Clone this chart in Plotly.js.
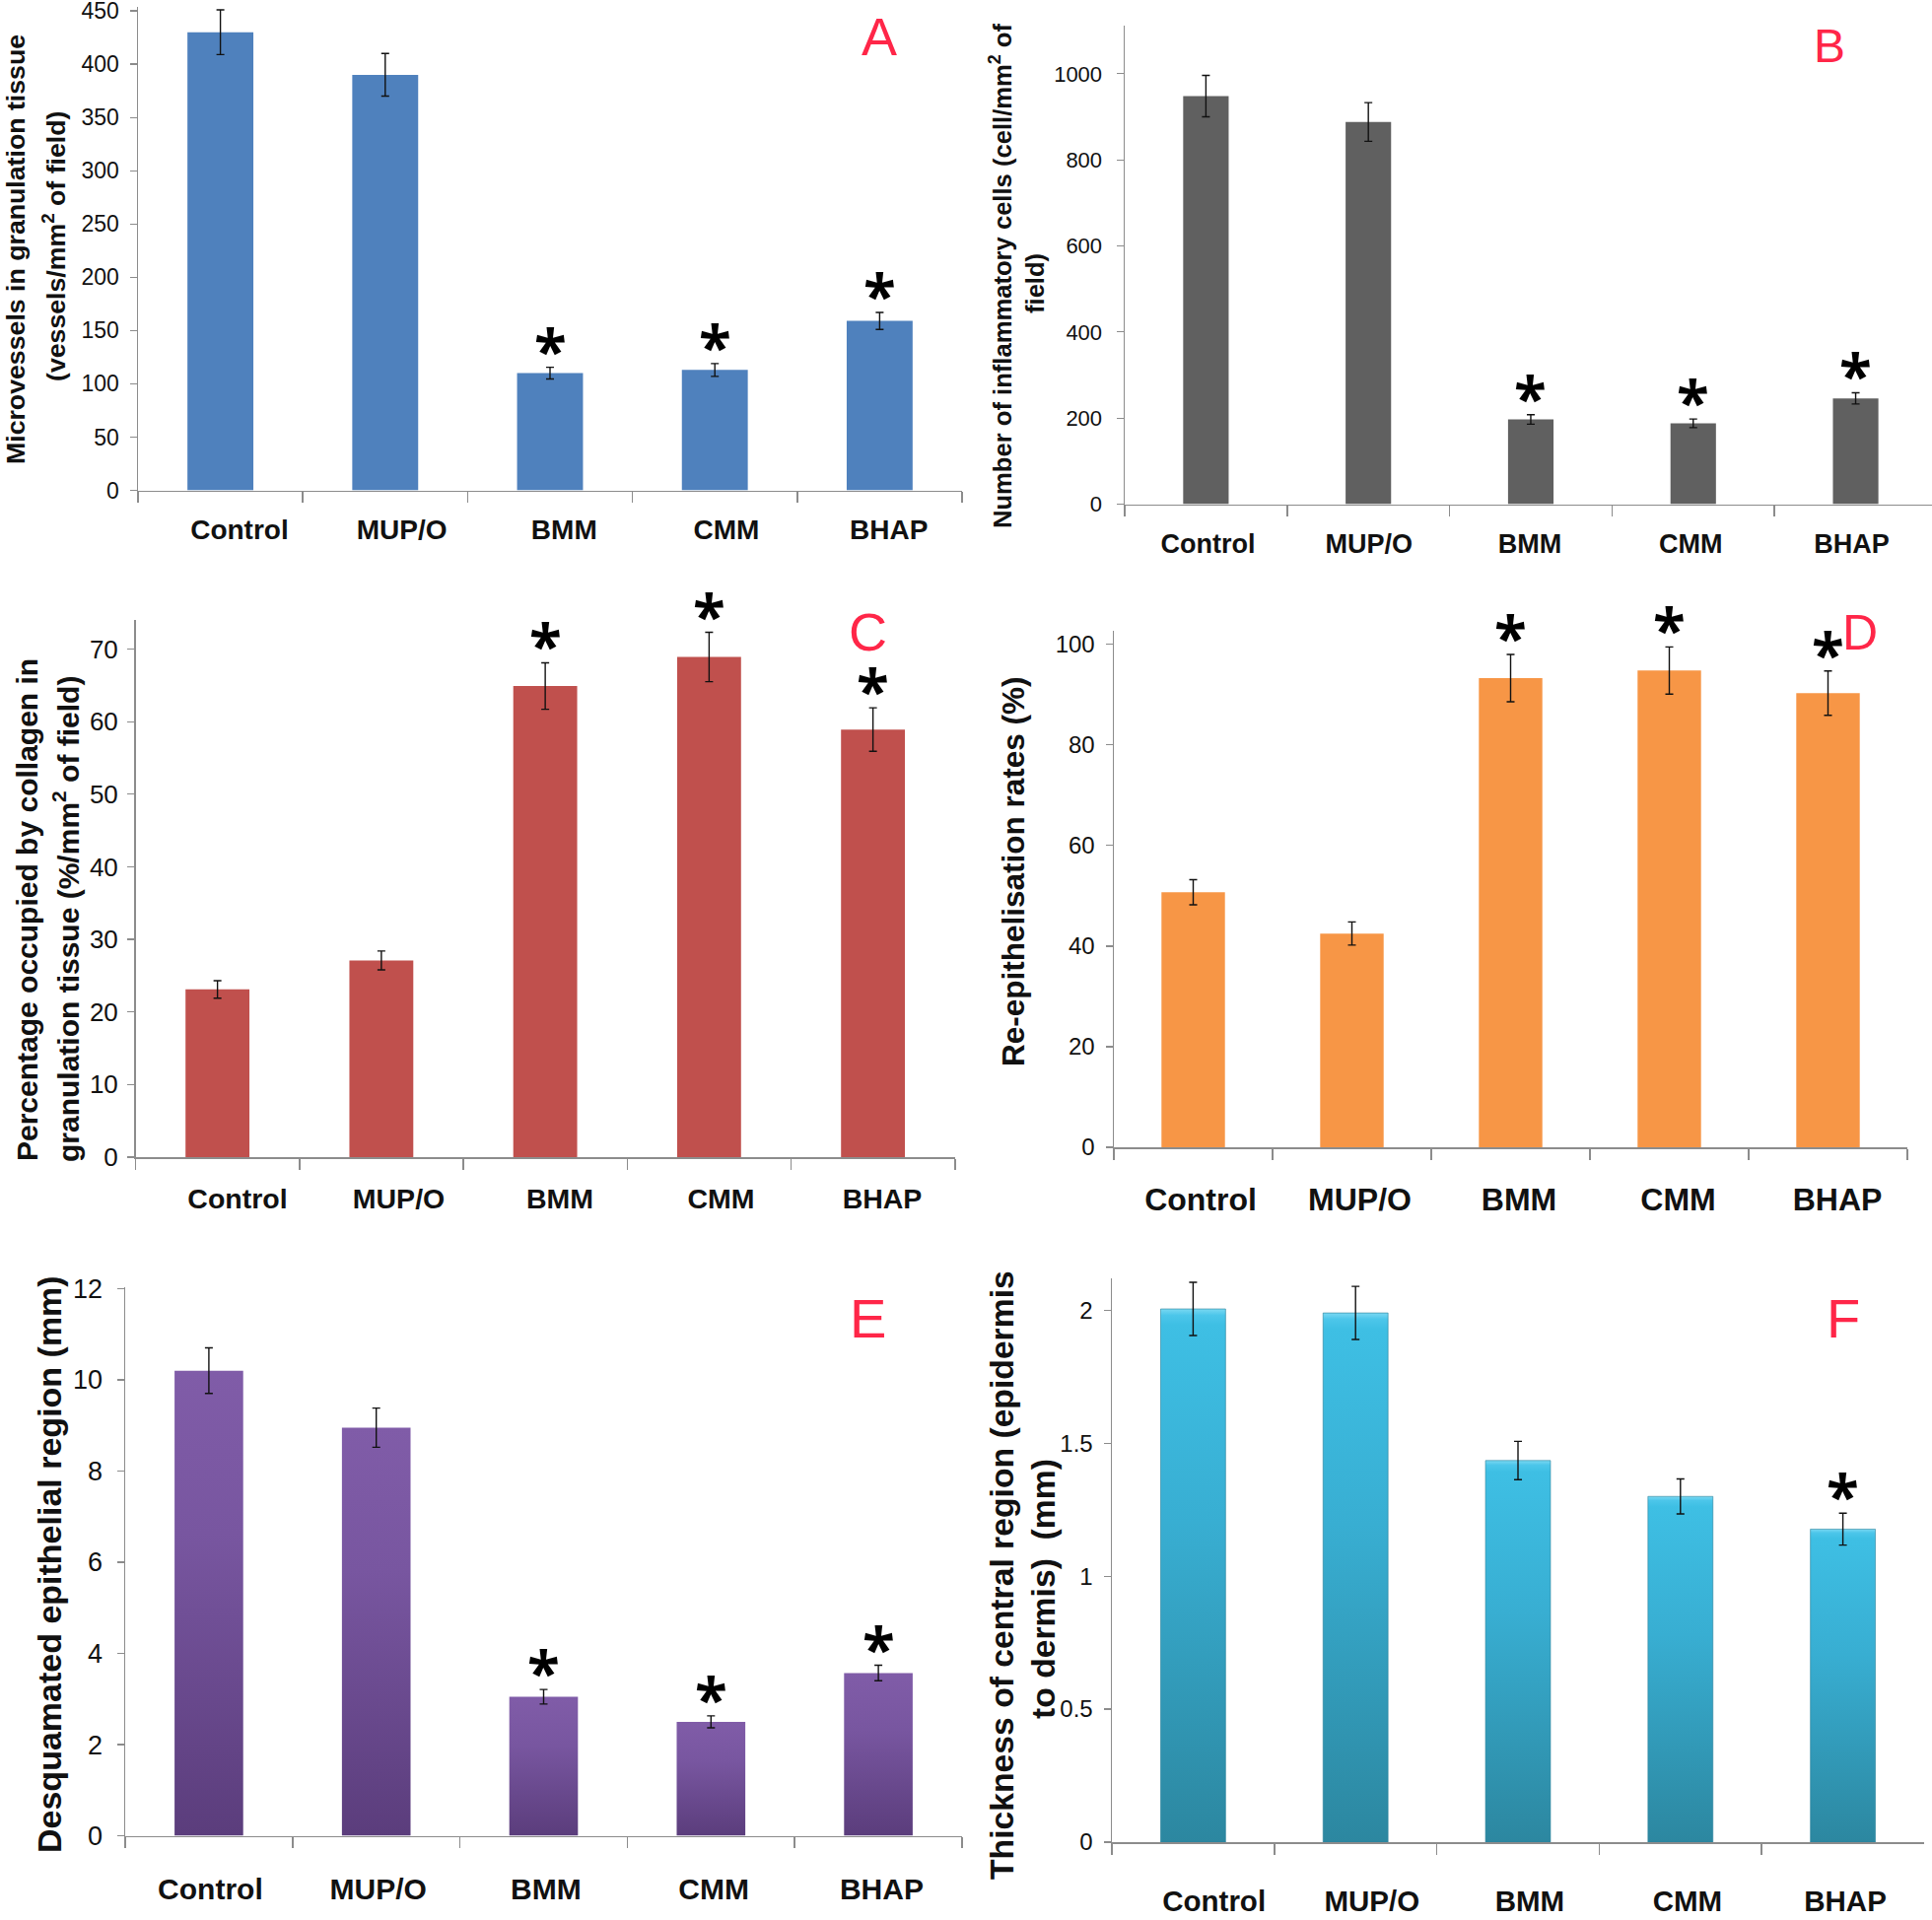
<!DOCTYPE html>
<html>
<head>
<meta charset="utf-8">
<script src="https://cdn.plot.ly/plotly-3.0.1.min.js"></script>
<style>
html,body{margin:0;padding:0;background:#fff;}
#chart{width:1960px;height:1948px;}
</style>
</head>
<body>
<div id="chart"></div>
<script>
// ---------------- DATA ----------------
const categories = ['Control', 'MUP/O', 'BMM', 'CMM', 'BHAP'];

const valuesA = [430, 390, 110, 113, 159];
const errorsA = [21, 20, 5.5, 6, 8];
const signifA = [0, 0, 1, 1, 1];

const valuesB = [948, 888, 197, 188, 246];
const errorsB = [48, 45, 11, 10, 13];
const signifB = [0, 0, 1, 1, 1];

const valuesC = [23.1, 27.1, 64.9, 68.9, 58.9];
const errorsC = [1.2, 1.3, 3.2, 3.4, 3.0];
const signifC = [0, 0, 1, 1, 1];

const valuesD = [50.7, 42.5, 93.3, 94.8, 90.3];
const errorsD = [2.5, 2.3, 4.7, 4.7, 4.4];
const signifD = [0, 0, 1, 1, 1];

const valuesE = [10.2, 8.95, 3.05, 2.5, 3.57];
const errorsE = [0.5, 0.43, 0.16, 0.13, 0.17];
const signifE = [0, 0, 1, 1, 1];

const valuesF = [2.005, 1.99, 1.435, 1.30, 1.177];
const errorsF = [0.10, 0.10, 0.072, 0.066, 0.06];
const signifF = [0, 0, 0, 0, 1];

const panelLetters = ['A', 'B', 'C', 'D', 'E', 'F'];

const yTitlesA = ['Microvessels in granulation tissue', '(vessels/mm<sup>2</sup> of field)'];
const yTitlesB = ['Number of inflammatory cells (cell/mm<sup>2</sup> of', 'field)'];
const yTitlesC = ['Percentage occupied by collagen in', 'granulation tissue (%/mm<sup>2</sup> of field)'];
const yTitlesD = ['Re-epithelisation rates (%)'];
const yTitlesE = ['Desquamated epithelial region (mm)'];
const yTitlesF = ['Thickness of central region (epidermis', 'to dermis)\u00a0 (mm)'];

// ---------------- STYLE / GEOMETRY ----------------
const W = 1960, H = 1948;
const fx = v => v / W;
const fy = v => 1 - v / H;
const AX = '#8c8c8c';
const SANS = 'Liberation Sans, Arial, sans-serif';
const STAR = {glyph: '*', family: 'Open Sans, sans-serif', size: 60, shift: 18};

const panels = [
  {vals: valuesA, errs: errorsA, sig: signifA, titles: yTitlesA, color: '#4f81bd', bw: 0.40,
   x0: 140, x1: 976, y0: 6.7, y1: 497.5, ytop: 454, dtick: 50, xr: [-0.5, 4.5],
   tickSize: 23, yStand: 6, lblSize: 28, lblStand: 20, lbl: [160.6, 984],
   titlePos: [[16, 253], [55, 250]], titleSize: 26.7,
   letter: {x: 4.0, y: 426, size: 54}},
  {vals: valuesB, errs: errorsB, sig: signifB, titles: yTitlesB, color: '#606060', bw: 0.28,
   x0: 1141, x1: 1960, y0: 25.9, y1: 511.6, ytop: 1112, dtick: 200, xr: [-0.5, 4.47],
   tickSize: 22, yStand: 10, lblSize: 27, lblStand: 21, lbl: [1144, 1964],
   titlePos: [[1015, 280], [1050, 288]], titleSize: 25.6,
   letter: {x: 3.84, y: 1065, size: 48}},
  {vals: valuesC, errs: errorsC, sig: signifC, titles: yTitlesC, color: '#c0504d', bw: 0.39,
   x0: 137.5, x1: 968.75, y0: 629, y1: 1174, ytop: 74, dtick: 10, xr: [-0.5, 4.5],
   tickSize: 26, yStand: 4, lblSize: 28.5, lblStand: 22, lbl: [159.25, 976.75],
   titlePos: [[28, 923], [67, 933]], titleSize: 30,
   letter: {x: 3.97, y: 72.4, size: 54}},
  {vals: valuesD, errs: errorsD, sig: signifD, titles: yTitlesD, color: '#f79646', bw: 0.40,
   x0: 1130, x1: 1935, y0: 640, y1: 1164, ytop: 102.7, dtick: 20, xr: [-0.5, 4.5],
   tickSize: 24, yStand: 6, lblSize: 32, lblStand: 31, lbl: [1137.25, 1944.75],
   titlePos: [[1028, 884]], titleSize: 31.5,
   letter: {x: 4.2, y: 102.3, size: 50}},
  {vals: valuesE, errs: errorsE, sig: signifE, titles: yTitlesE, color: '#6f4f96', bw: 0.41,
   x0: 127, x1: 976, y0: 1306, y1: 1862.6, ytop: 12.03, dtick: 2, xr: [-0.5, 4.5],
   tickSize: 27, yStand: 9, lblSize: 30, lblStand: 33, lbl: [128.3, 979.5],
   titlePos: [[50, 1587]], titleSize: 34,
   letter: {x: 3.94, y: 11.36, size: 56}},
  {vals: valuesF, errs: errorsF, sig: signifF, titles: yTitlesF, color: '#35a6c8', bw: 0.40,
   x0: 1128, x1: 1952, y0: 1297, y1: 1869, ytop: 2.12, dtick: 0.5, xr: [-0.5, 4.5],
   tickSize: 24, yStand: 6, lblSize: 29.5, lblStand: 39, lbl: [1151.6, 1952.1],
   titlePos: [[1016, 1598], [1058, 1612]], titleSize: 33.7,
   letter: {x: 4.0, y: 1.97, size: 56}}
];

const data = [];
const annotations = [];
const layout = {
  width: W, height: H,
  margin: {l: 0, r: 0, t: 0, b: 0, pad: 0},
  paper_bgcolor: '#fff', plot_bgcolor: 'rgba(0,0,0,0)',
  showlegend: false,
  annotations: annotations
};

const catIndex = categories.map((c, i) => i);

panels.forEach((p, i) => {
  const n = i === 0 ? '' : String(i + 1);
  const xa = 'x' + n, ya = 'y' + n;
  const ln = String(i + 7);          // label axis id
  data.push({
    type: 'bar', x: categories, y: p.vals, xaxis: xa, yaxis: ya,
    width: p.bw,
    marker: {color: p.color, line: {width: 0}},
    error_y: {type: 'data', array: p.errs, visible: true, color: '#111', thickness: 1.4, width: 4},
    hoverinfo: 'skip'
  });
  // invisible carrier for the category-label axis
  data.push({
    type: 'scatter', mode: 'markers', x: catIndex, y: catIndex.map(() => 0),
    xaxis: 'x' + ln, yaxis: ya, marker: {opacity: 0, size: 1}, hoverinfo: 'skip'
  });
  layout['xaxis' + n] = {
    domain: [fx(p.x0), fx(p.x1)], anchor: ya, range: p.xr,
    showline: true, linecolor: AX, linewidth: 1.5,
    ticks: 'outside', tickson: 'boundaries', ticklen: 11, tickcolor: AX, tickwidth: 1.5,
    showgrid: false, zeroline: false, showticklabels: false, fixedrange: true
  };
  layout['xaxis' + ln] = {
    domain: [fx(p.lbl[0]), fx(p.lbl[1])], anchor: ya, range: [-0.5, 4.5], type: 'linear',
    tickmode: 'array', tickvals: catIndex, ticktext: categories,
    showline: false, ticks: '', showgrid: false, zeroline: false,
    tickfont: {family: SANS, size: p.lblSize, color: '#111', weight: 'bold'},
    ticklabelstandoff: p.lblStand, fixedrange: true
  };
  layout['yaxis' + n] = {
    domain: [fy(p.y1), fy(p.y0)], anchor: xa, range: [0, p.ytop],
    dtick: p.dtick, tick0: 0,
    showline: true, linecolor: AX, linewidth: 1.5,
    ticks: 'outside', ticklen: 7, tickcolor: AX, tickwidth: 1.2,
    showgrid: false, zeroline: false,
    tickfont: {family: SANS, size: p.tickSize, color: '#111'},
    ticklabelstandoff: p.yStand, ticklabeloverflow: 'allow', fixedrange: true
  };
  // y titles
  p.titles.forEach((t, k) => {
    annotations.push({
      text: t, xref: 'paper', yref: 'paper',
      x: fx(p.titlePos[k][0]), y: fy(p.titlePos[k][1]),
      xanchor: 'center', yanchor: 'middle', textangle: -90, showarrow: false,
      font: {family: SANS, size: p.titleSize, color: '#111', weight: 'bold'}
    });
  });
  // panel letter
  annotations.push({
    text: panelLetters[i], xref: xa, yref: ya, x: p.letter.x, y: p.letter.y,
    xanchor: 'center', yanchor: 'middle', showarrow: false,
    font: {family: SANS, size: p.letter.size, color: '#ff2648'}
  });
  // significance stars, placed just above each error bar
  p.sig.forEach((s, k) => {
    if (!s) return;
    annotations.push({
      text: STAR.glyph, xref: xa, yref: ya, x: categories[k], y: p.vals[k] + p.errs[k],
      xanchor: 'center', yanchor: 'middle', yshift: STAR.shift, showarrow: false,
      font: {family: STAR.family, size: STAR.size, color: '#000', weight: 'bold'}
    });
  });
});

const gd = document.getElementById('chart');
Plotly.newPlot(gd, data, layout, {staticPlot: true, displayModeBar: false}).then(() => {
  const NS = 'http://www.w3.org/2000/svg';
  const svg = gd.querySelector('svg.main-svg');
  let defs = svg.querySelector('defs');
  if (!defs) { defs = document.createElementNS(NS, 'defs'); svg.insertBefore(defs, svg.firstChild); }
  function grad(id, stops) {
    const g = document.createElementNS(NS, 'linearGradient');
    g.setAttribute('id', id);
    g.setAttribute('x1', '0'); g.setAttribute('y1', '0');
    g.setAttribute('x2', '0'); g.setAttribute('y2', '1');
    stops.forEach(s => {
      const st = document.createElementNS(NS, 'stop');
      st.setAttribute('offset', s[0]);
      st.setAttribute('stop-color', s[1]);
      g.appendChild(st);
    });
    defs.appendChild(g);
  }
  grad('gradE', [['0', '#805ca8'], ['0.35', '#7856a0'], ['1', '#5b3d7c']]);
  grad('gradF', [['0', '#7ad8f2'], ['0.012', '#4cc6ea'], ['0.03', '#3ebfe4'], ['0.4', '#38aed2'], ['1', '#2c87a0']]);
  gd.querySelectorAll('.subplot.x5y5 .barlayer .point path').forEach(el => { el.style.fill = 'url(#gradE)'; });
  gd.querySelectorAll('.subplot.x6y6 .barlayer .point path').forEach(el => {
    el.style.fill = 'url(#gradF)'; el.style.stroke = '#2a8199'; el.style.strokeWidth = '1px'; el.style.strokeOpacity = '0.6';
  });
});
</script>
</body>
</html>
